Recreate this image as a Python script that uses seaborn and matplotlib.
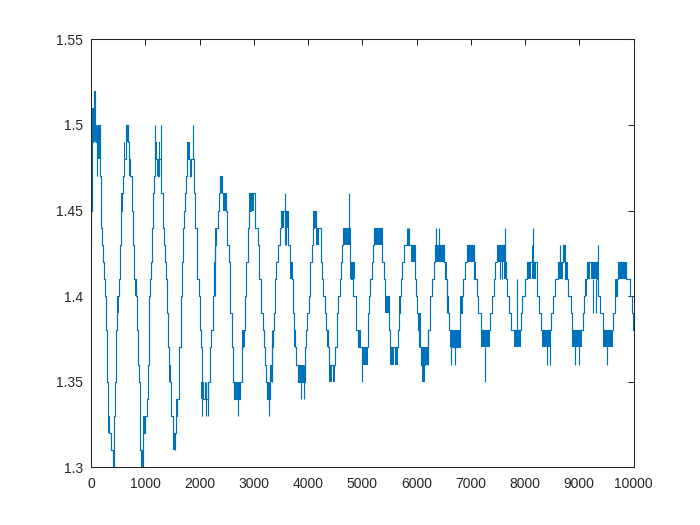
import pandas as pd
import matplotlib
matplotlib.use("Agg")
import matplotlib.pyplot as plt
import seaborn as sns
from matplotlib.ticker import FormatStrFormatter

# quantised signal: sample index where the level changes, and the new level
step_t = [0, 5, 20, 45, 55, 75, 100, 130, 160, 173, 185, 192, 205, 215, 235, 255, 270, 280, 290, 300,
          308, 340, 370, 405, 420, 432, 445, 458, 470, 485, 515, 530, 545, 565, 585, 600, 640, 680, 705, 725,
          750, 758, 780, 800, 830, 845, 862, 880, 895, 910, 938, 950, 962, 1000, 1025, 1046, 1065, 1075, 1090, 1100,
          1118, 1150, 1165, 1180, 1230, 1255, 1295, 1320, 1330, 1350, 1362, 1385, 1398, 1410, 1427, 1440, 1465, 1477, 1508, 1565,
          1585, 1615, 1630, 1650, 1660, 1675, 1690, 1710, 1735, 1755, 1770, 1830, 1845, 1895, 1910, 1925, 1950, 1962, 1985, 2000,
          2015, 2030, 2045, 2060, 2165, 2190, 2200, 2215, 2240, 2265, 2290, 2310, 2338, 2365, 2385, 2420, 2490, 2510, 2535, 2555,
          2570, 2595, 2610, 2620, 2645, 2745, 2780, 2800, 2840, 2860, 2890, 2900, 2910, 2950, 3020, 3075, 3090, 3105, 3125, 3140,
          3170, 3185, 3210, 3230, 3250, 3295, 3330, 3350, 3365, 3383, 3395, 3415, 3445, 3475, 3495, 3635, 3670, 3700, 3720, 3740,
          3755, 3780, 3810, 3945, 3970, 3990, 4010, 4030, 4045, 4070, 4090, 4110, 4150, 4245, 4260, 4275, 4305, 4340, 4365, 4385,
          4505, 4530, 4550, 4590, 4610, 4625, 4645, 4780, 4795, 4830, 4890, 4915, 5105, 5115, 5130, 5150, 5180, 5200, 5220, 5360,
          5395, 5425, 5485, 5510, 5660, 5670, 5700, 5710, 5740, 5775, 5970, 5985, 6000, 6030, 6060, 6090, 6165, 6210, 6250, 6285,
          6320, 6340, 6510, 6530, 6560, 6585, 6600, 6640, 6800, 6830, 6860, 6900, 6940, 7060, 7110, 7140, 7190, 7360, 7390, 7420,
          7450, 7480, 7620, 7650, 7675, 7705, 7737, 7920, 7950, 7995, 8045, 8230, 8260, 8290, 8475, 8520, 8545, 8600, 8703, 8740,
          8795, 8840, 8875, 9060, 9080, 9100, 9145, 9320, 9350, 9380, 9430, 9625, 9650, 9690, 9717, 9870, 9930, 9965, 9990, 10000]
step_v = [1.43, 1.45, 1.49, 1.51, 1.52, 1.50, 1.49, 1.50, 1.48, 1.47, 1.45, 1.44, 1.43, 1.42, 1.41, 1.40, 1.39, 1.38, 1.37, 1.35,
          1.33, 1.32, 1.31, 1.30, 1.32, 1.33, 1.35, 1.36, 1.38, 1.40, 1.41, 1.43, 1.45, 1.46, 1.47, 1.48, 1.50, 1.49, 1.48, 1.47,
          1.46, 1.45, 1.43, 1.41, 1.40, 1.38, 1.36, 1.35, 1.33, 1.31, 1.30, 1.31, 1.32, 1.33, 1.34, 1.36, 1.38, 1.40, 1.41, 1.42,
          1.44, 1.46, 1.47, 1.48, 1.47, 1.48, 1.46, 1.45, 1.44, 1.43, 1.42, 1.41, 1.40, 1.39, 1.37, 1.36, 1.35, 1.33, 1.32, 1.33,
          1.34, 1.36, 1.37, 1.39, 1.40, 1.42, 1.44, 1.45, 1.46, 1.47, 1.48, 1.47, 1.48, 1.46, 1.45, 1.44, 1.43, 1.41, 1.40, 1.39,
          1.38, 1.37, 1.35, 1.34, 1.35, 1.36, 1.37, 1.38, 1.40, 1.42, 1.43, 1.44, 1.45, 1.46, 1.47, 1.46, 1.45, 1.43, 1.42, 1.41,
          1.39, 1.37, 1.36, 1.35, 1.34, 1.35, 1.37, 1.38, 1.40, 1.42, 1.43, 1.44, 1.45, 1.46, 1.44, 1.43, 1.42, 1.41, 1.40, 1.39,
          1.38, 1.37, 1.36, 1.35, 1.34, 1.36, 1.37, 1.38, 1.39, 1.40, 1.41, 1.42, 1.43, 1.44, 1.45, 1.43, 1.42, 1.41, 1.39, 1.38,
          1.37, 1.36, 1.35, 1.37, 1.38, 1.39, 1.40, 1.41, 1.42, 1.43, 1.44, 1.45, 1.44, 1.42, 1.41, 1.40, 1.39, 1.38, 1.37, 1.36,
          1.37, 1.39, 1.40, 1.41, 1.42, 1.43, 1.44, 1.42, 1.41, 1.40, 1.38, 1.37, 1.38, 1.39, 1.40, 1.41, 1.42, 1.43, 1.44, 1.42,
          1.41, 1.40, 1.38, 1.37, 1.38, 1.39, 1.40, 1.41, 1.42, 1.43, 1.41, 1.40, 1.39, 1.38, 1.37, 1.36, 1.37, 1.38, 1.40, 1.41,
          1.42, 1.43, 1.42, 1.41, 1.40, 1.39, 1.38, 1.37, 1.39, 1.40, 1.41, 1.42, 1.43, 1.41, 1.40, 1.39, 1.38, 1.39, 1.40, 1.41,
          1.42, 1.43, 1.42, 1.41, 1.40, 1.39, 1.38, 1.39, 1.40, 1.41, 1.42, 1.40, 1.39, 1.38, 1.39, 1.40, 1.41, 1.42, 1.43, 1.41,
          1.40, 1.39, 1.38, 1.39, 1.40, 1.41, 1.42, 1.41, 1.40, 1.39, 1.38, 1.39, 1.40, 1.41, 1.42, 1.41, 1.40, 1.39, 1.38, 1.38]

# stretches where the signal flickers fast between two adjacent levels
flick_start = [25, 50, 70, 120, 305, 360, 485, 550, 615, 650, 700, 810, 915, 965, 1075, 1180, 1215, 1245, 1440, 1510,
               1565, 1775, 2035, 2095, 2290, 2380, 2425, 2645, 2780, 2920, 3250, 3295, 3495, 3570, 3660, 3740, 3815, 4090, 4150, 4350,
               4380, 4470, 4645, 4780, 4915, 5010, 5220, 5425, 5510, 5600, 5670, 5900, 6020, 6110, 6165, 6350, 6526, 6620, 6800, 6945,
               7065, 7190, 7480, 7560, 7620, 7800, 8045, 8130, 8320, 8600, 8703, 8740, 8875, 9100, 9145, 9220, 9430, 9650, 9717]
flick_end = [70, 75, 110, 160, 345, 385, 510, 565, 635, 680, 735, 830, 945, 1015, 1095, 1210, 1240, 1275, 1465, 1550,
             1600, 1830, 2065, 2120, 2320, 2420, 2490, 2740, 2830, 3010, 3290, 3335, 3560, 3630, 3720, 3765, 3935, 4150, 4210, 4380,
             4440, 4500, 4780, 4870, 4975, 5100, 5360, 5485, 5590, 5650, 5710, 5990, 6080, 6160, 6210, 6510, 6560, 6800, 6830, 7065,
             7095, 7356, 7540, 7620, 7665, 7920, 8105, 8200, 8470, 8700, 8735, 8795, 9050, 9145, 9200, 9320, 9625, 9690, 9870]
flick_lo = [1.49, 1.50, 1.49, 1.48, 1.32, 1.31, 1.39, 1.45, 1.48, 1.49, 1.47, 1.40, 1.30, 1.32, 1.39, 1.48, 1.47, 1.48, 1.35, 1.31,
            1.33, 1.48, 1.34, 1.34, 1.43, 1.46, 1.45, 1.34, 1.37, 1.45, 1.34, 1.35, 1.44, 1.44, 1.41, 1.37, 1.35, 1.44, 1.43, 1.37,
            1.35, 1.35, 1.43, 1.41, 1.37, 1.36, 1.43, 1.39, 1.36, 1.36, 1.39, 1.42, 1.38, 1.35, 1.36, 1.42, 1.41, 1.37, 1.39, 1.42,
            1.41, 1.37, 1.42, 1.42, 1.41, 1.37, 1.41, 1.41, 1.37, 1.41, 1.42, 1.41, 1.37, 1.40, 1.41, 1.41, 1.37, 1.40, 1.41]
flick_hi = [1.51, 1.52, 1.50, 1.50, 1.33, 1.32, 1.40, 1.46, 1.49, 1.50, 1.48, 1.41, 1.31, 1.33, 1.40, 1.49, 1.48, 1.49, 1.36, 1.32,
            1.34, 1.49, 1.35, 1.35, 1.44, 1.47, 1.46, 1.35, 1.38, 1.46, 1.35, 1.36, 1.45, 1.45, 1.42, 1.38, 1.36, 1.45, 1.44, 1.38,
            1.36, 1.36, 1.44, 1.42, 1.38, 1.37, 1.44, 1.40, 1.37, 1.37, 1.40, 1.43, 1.39, 1.37, 1.37, 1.43, 1.42, 1.38, 1.40, 1.43,
            1.42, 1.38, 1.43, 1.43, 1.42, 1.38, 1.42, 1.42, 1.38, 1.42, 1.43, 1.42, 1.38, 1.41, 1.42, 1.42, 1.38, 1.41, 1.42]

# single-sample glitches
spike_t = [110, 943, 1180, 1290, 1545, 1880, 2045, 2125, 2150, 2280, 2706, 3280, 3330, 3567, 3580, 3600, 3875, 3925, 4760, 4990,
           5825, 5845, 5870, 6040, 6205, 6360, 6410, 6565, 6630, 6710, 7264, 7530, 7570, 7635, 7860, 8135, 8155, 8400, 8460, 8650,
           8930, 8998, 9250, 9300, 9340, 9520]
spike_lo = [1.47, 1.30, 1.48, 1.48, 1.31, 1.48, 1.33, 1.33, 1.33, 1.40, 1.33, 1.33, 1.35, 1.44, 1.43, 1.43, 1.34, 1.34, 1.44, 1.35,
            1.43, 1.43, 1.43, 1.37, 1.36, 1.43, 1.43, 1.39, 1.36, 1.36, 1.35, 1.41, 1.41, 1.42, 1.38, 1.42, 1.42, 1.36, 1.36, 1.42,
            1.36, 1.36, 1.39, 1.39, 1.41, 1.36]
spike_hi = [1.50, 1.31, 1.50, 1.50, 1.32, 1.50, 1.35, 1.35, 1.35, 1.43, 1.35, 1.35, 1.38, 1.46, 1.45, 1.45, 1.36, 1.36, 1.46, 1.37,
            1.44, 1.44, 1.44, 1.39, 1.38, 1.44, 1.44, 1.41, 1.38, 1.38, 1.37, 1.43, 1.43, 1.44, 1.41, 1.43, 1.44, 1.38, 1.38, 1.43,
            1.38, 1.38, 1.41, 1.41, 1.43, 1.38]

x_ticks = [0, 1000, 2000, 3000, 4000, 5000, 6000, 7000, 8000, 9000, 10000]
y_ticks = [1.3, 1.35, 1.4, 1.45, 1.5, 1.55]

line_color = "#0072BD"
axis_color = "#262626"

sns.set_style("white")
plt.rcParams["font.family"] = ["Liberation Sans", "DejaVu Sans"]

df = pd.DataFrame({"sample": step_t, "value": step_v})

fig = plt.figure(figsize=(7, 5.25), dpi=100)
ax = fig.add_axes([0.13, 0.11, 0.775, 0.815])

sns.lineplot(data=df, x="sample", y="value", ax=ax, color=line_color, linewidth=0.85,
             drawstyle="steps-post", estimator=None, sort=False)

for t0, t1, lo, hi in zip(flick_start, flick_end, flick_lo, flick_hi):
    ax.fill_between([t0, t1], lo, hi, color=line_color, linewidth=0)

ax.vlines(spike_t, spike_lo, spike_hi, color=line_color, linewidth=0.85)

ax.set_xlim(0, 10000)
ax.set_ylim(1.3, 1.55)
ax.set_xticks(x_ticks)
ax.set_yticks(y_ticks)
ax.yaxis.set_major_formatter(FormatStrFormatter("%g"))
ax.set_xlabel("")
ax.set_ylabel("")

for side in ["top", "right", "bottom", "left"]:
    ax.spines[side].set_visible(True)
    ax.spines[side].set_color(axis_color)
    ax.spines[side].set_linewidth(0.75)

ax.tick_params(axis="both", direction="in", length=4, width=0.75, color=axis_color,
               labelcolor=axis_color, labelsize=10, top=True, right=True)
ax.tick_params(axis="x", pad=7)
ax.tick_params(axis="y", pad=6)

fig.savefig("out.png", dpi=100)
